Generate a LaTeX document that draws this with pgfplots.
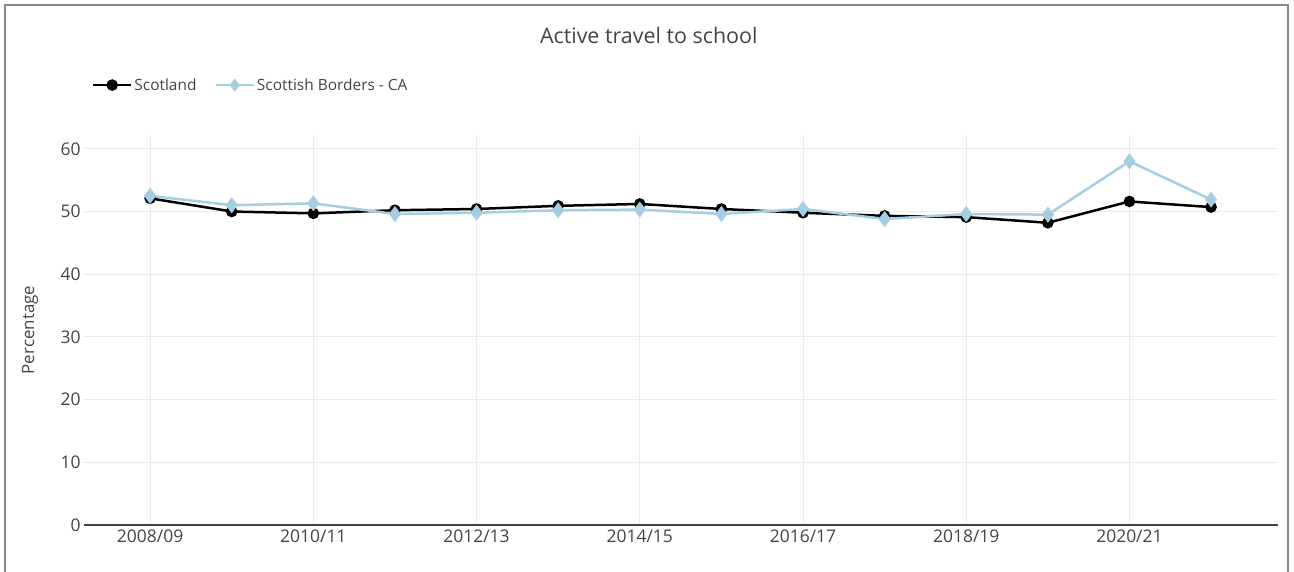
\documentclass[border=0pt]{standalone}
\usepackage{pgfplots}
\pgfplotsset{compat=1.18}
\usepackage{fontspec}
\setmainfont{Open Sans}
\definecolor{bordersblue}{RGB}{166,206,227}
\definecolor{gridgrey}{RGB}{235,235,235}
\definecolor{textgrey}{RGB}{68,68,68}
\definecolor{framegrey}{RGB}{136,136,136}

\begin{document}
\begin{tikzpicture}
\path[use as bounding box] (-84bp,-47bp) rectangle (1210bp,525bp);
\draw[framegrey, line width=2bp] (-79bp,-47bp) -- (-79bp,520bp) -- (1204bp,520bp) -- (1204bp,-47bp);
\begin{axis}[
    at={(0,0)}, anchor=south west,
    scale only axis,
    width=1194bp, height=390bp,
    xmin=-0.81, xmax=13.82,
    ymin=0, ymax=62.2,
    xtick={0,2,4,6,8,10,12},
    xticklabels={2008/09,2010/11,2012/13,2014/15,2016/17,2018/19,2020/21},
    ytick={0,10,20,30,40,50,60},
    /pgf/number format/assume math mode=true,
    tick label style={font=\fontsize{17.5}{21}\selectfont, text=textgrey},
    xticklabel style={yshift=-1bp},
    yticklabel style={xshift=0bp},
    major tick length=0pt,
    axis line style={draw=none},
    grid=major,
    grid style={gridgrey, line width=1bp},
    ylabel={Percentage},
    ylabel style={font=\fontsize{17}{20}\selectfont, text=textgrey, at={(rel axis cs:-0.0452,0.5)}, anchor=center},
    title={Active travel to school},
    title style={font=\fontsize{21.5}{25}\selectfont, text=textgrey, at={(rel axis cs:0.473,1.24)}, anchor=center},
    legend columns=2,
    legend style={at={(rel axis cs:0.004,1.128)}, anchor=west, draw=none, fill=none,
        font=\fontsize{15.5}{18}\selectfont, text=textgrey,
        /tikz/every even column/.append style={column sep=16bp}},
    legend image code/.code={
        \draw[#1, mark=none] (0bp,0bp) -- (38bp,0bp);
        \draw[#1, only marks, mark size=4.5bp] plot coordinates {(19bp,0bp)};
    },
    clip=false,
]
\draw[textgrey, line width=1.6bp] (axis cs:-0.81,0) -- (axis cs:13.82,0);

\addplot[black, line width=2.5bp, mark=*, mark size=4.5bp, mark options={solid, fill=black}]
    coordinates {
    (0,52.1)(1,50.0)(2,49.7)(3,50.2)(4,50.4)(5,50.9)(6,51.2)
    (7,50.4)(8,49.8)(9,49.3)(10,49.1)(11,48.2)(12,51.6)(13,50.7)
    };
    \addlegendentry{Scotland}
\addplot[bordersblue, line width=2.5bp, mark=diamond*, mark size=6bp, mark options={solid, fill=bordersblue}]
    coordinates {
    (0,52.5)(1,51.0)(2,51.3)(3,49.6)(4,49.8)(5,50.2)(6,50.3)
    (7,49.6)(8,50.4)(9,48.8)(10,49.6)(11,49.5)(12,58.0)(13,51.9)
    };
    \addlegendentry{Scottish Borders - CA}
\end{axis}
\end{tikzpicture}
\end{document}
